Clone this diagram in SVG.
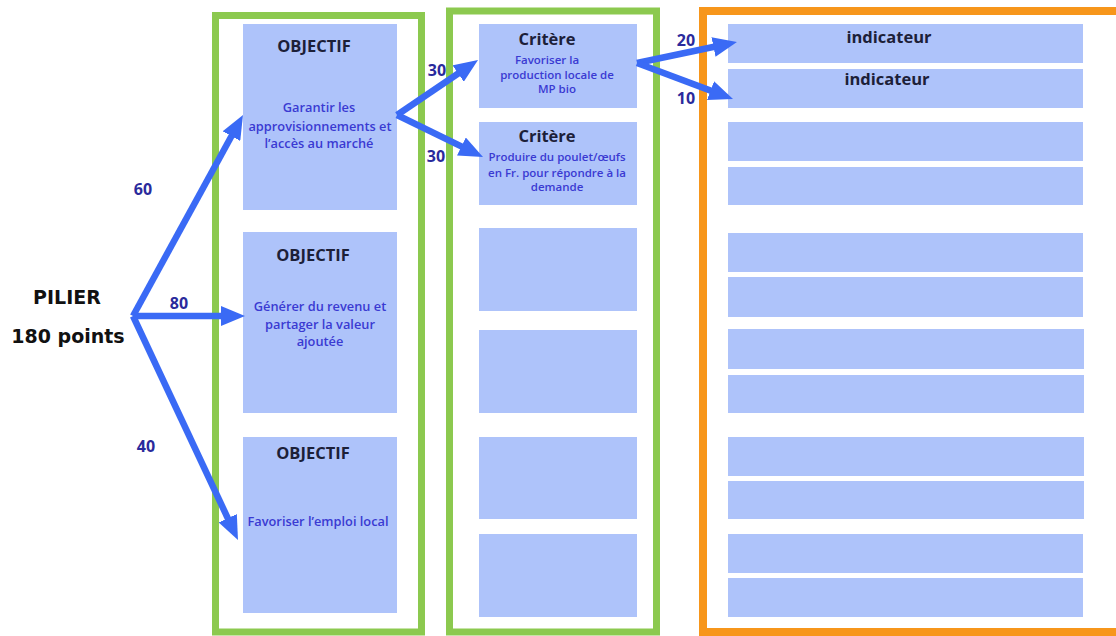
<svg xmlns="http://www.w3.org/2000/svg" width="1116" height="636" viewBox="0 0 1116 636">
<style>
.frame-g{fill:none;stroke:#8cc94f;stroke-width:7}
.frame-o{fill:none;stroke:#f7961b;stroke-width:8}
.box{fill:#aec3fa}
.title{font-family:"Open Sans","DejaVu Sans",sans-serif;font-weight:700;font-size:16.5px;fill:#1c2038;text-anchor:middle}
.body{font-family:"Open Sans","DejaVu Sans",sans-serif;font-weight:600;font-size:12.8px;fill:#3a3ad2;text-anchor:middle}
.body2{font-family:"Open Sans","DejaVu Sans",sans-serif;font-weight:600;font-size:11.5px;fill:#3a3ad2;text-anchor:middle}
.num{font-family:"Open Sans","DejaVu Sans",sans-serif;font-weight:700;font-size:16px;fill:#2a2a9c;text-anchor:middle}
.pil{font-family:"DejaVu Sans",Verdana,sans-serif;font-weight:700;font-size:19px;fill:#111;text-anchor:middle}
.arr{fill:none;stroke:#3a6af5;stroke-width:6.5}
</style>
<defs>
<marker id="ah" markerUnits="userSpaceOnUse" viewBox="0 0 24 20" markerWidth="24" markerHeight="20" refX="13" refY="10" orient="auto">
<path d="M0,0 L24,10 L0,20 z" fill="#3a6af5"/>
</marker>
</defs>
<rect width="1116" height="636" fill="#ffffff"/>

<g id="frames">
<rect class="frame-g" x="215.5" y="15.5" width="206" height="616.5"/>
<rect class="frame-g" x="449.5" y="11" width="207" height="621"/>
<rect class="frame-o" x="703" y="11" width="430" height="621"/>
</g>

<g id="pilier">
<text class="pil" x="67" y="304">PILIER</text>
<text class="pil" x="68" y="343">180 points</text>
</g>

<g id="objectif1">
<rect class="box" x="243" y="24" width="154" height="186"/>
<text class="title" x="314" y="52">OBJECTIF</text>
<text class="body" x="319" y="112">Garantir les</text>
<text class="body" x="320" y="131">approvisionnements et</text>
<text class="body" x="319" y="148">l’accès au marché</text>
</g>
<g id="objectif2">
<rect class="box" x="243" y="232" width="154" height="181"/>
<text class="title" x="313" y="261">OBJECTIF</text>
<text class="body" x="320" y="311">Générer du revenu et</text>
<text class="body" x="320" y="329">partager la valeur</text>
<text class="body" x="320" y="346">ajoutée</text>
</g>
<g id="objectif3">
<rect class="box" x="243" y="437" width="154" height="176"/>
<text class="title" x="313" y="459">OBJECTIF</text>
<text class="body" x="318" y="526">Favoriser l’emploi local</text>
</g>

<g id="critere1">
<rect class="box" x="479" y="24" width="158" height="84"/>
<text class="title" x="547" y="45">Critère</text>
<text class="body2" x="547" y="64">Favoriser la</text>
<text class="body2" x="557" y="79">production locale de</text>
<text class="body2" x="557" y="93">MP bio</text>
</g>
<g id="critere2">
<rect class="box" x="479" y="122" width="158" height="83"/>
<text class="title" x="547" y="142">Critère</text>
<text class="body2" x="557" y="161">Produire du poulet/œufs</text>
<text class="body2" x="557" y="177">en Fr. pour répondre à la</text>
<text class="body2" x="557" y="191">demande</text>
</g>
<g id="critere3"><rect class="box" x="479" y="228" width="158" height="83"/></g>
<g id="critere4"><rect class="box" x="479" y="330" width="158" height="83"/></g>
<g id="critere5"><rect class="box" x="479" y="437" width="158" height="82"/></g>
<g id="critere6"><rect class="box" x="479" y="534" width="158" height="83"/></g>

<g id="indicateur1"><rect class="box" x="728" y="24" width="355" height="39"/><text class="title" x="889" y="43">indicateur</text></g>
<g id="indicateur2"><rect class="box" x="728" y="69" width="355" height="39"/><text class="title" x="887" y="85">indicateur</text></g>
<g id="indicateur3"><rect class="box" x="728" y="122" width="355" height="39"/></g>
<g id="indicateur4"><rect class="box" x="728" y="167" width="355" height="38"/></g>
<g id="indicateur5"><rect class="box" x="728" y="233" width="355" height="39"/></g>
<g id="indicateur6"><rect class="box" x="728" y="277" width="355" height="40"/></g>
<g id="indicateur7"><rect class="box" x="728" y="329" width="356" height="40"/></g>
<g id="indicateur8"><rect class="box" x="728" y="375" width="356" height="38"/></g>
<g id="indicateur9"><rect class="box" x="728" y="437" width="356" height="39"/></g>
<g id="indicateur10"><rect class="box" x="728" y="481" width="356" height="38"/></g>
<g id="indicateur11"><rect class="box" x="728" y="534" width="355" height="39"/></g>
<g id="indicateur12"><rect class="box" x="728" y="578" width="355" height="39"/></g>

<g id="connectors">
<path class="arr" d="M133,316 L237.7,124.7" marker-end="url(#ah)"/>
<path class="arr" d="M133,316 L234,316" marker-end="url(#ah)"/>
<path class="arr" d="M133,316 L233.3,530" marker-end="url(#ah)"/>
<path class="arr" d="M397,115 L468.9,66.2" marker-end="url(#ah)"/>
<path class="arr" d="M397,115 L473.1,152.2" marker-end="url(#ah)"/>
<path class="arr" d="M637,63 L726.2,44.3" marker-end="url(#ah)"/>
<path class="arr" d="M637,63 L722.7,95.1" marker-end="url(#ah)"/>
<text class="num" x="143" y="195">60</text>
<text class="num" x="179" y="309">80</text>
<text class="num" x="146" y="452">40</text>
<text class="num" x="437" y="76">30</text>
<text class="num" x="436" y="162">30</text>
<text class="num" x="686" y="46">20</text>
<text class="num" x="686" y="104">10</text>
</g>
</svg>
